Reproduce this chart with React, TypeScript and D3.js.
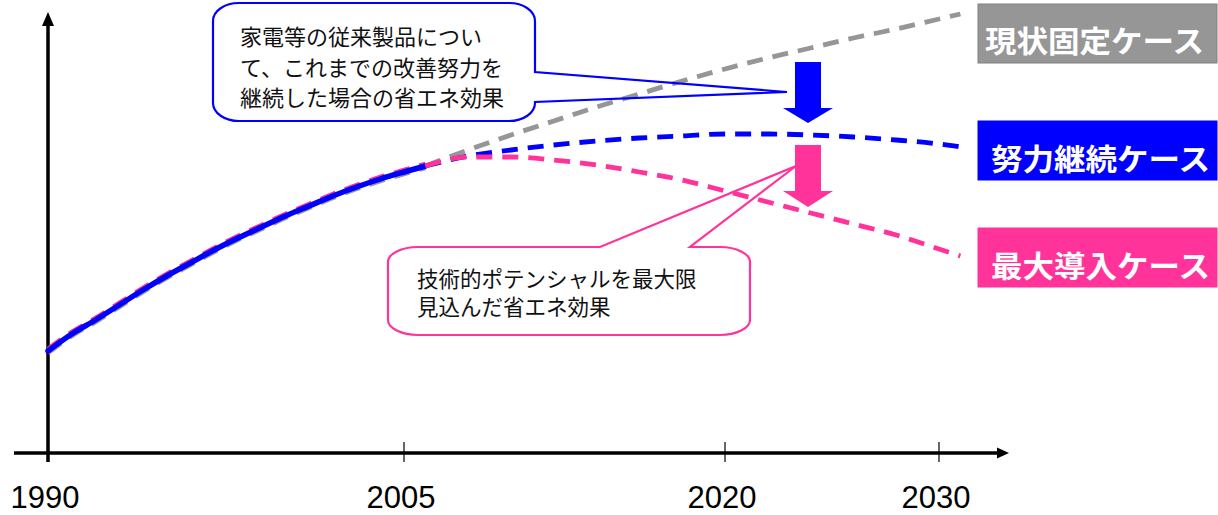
import React from "react";
import * as d3 from "d3";

// Historical trend (index units), 1990–2006
const actualYears = [1990, 1991, 1992, 1993, 1994, 1995, 1996, 1997, 1998, 1999, 2000, 2001, 2002, 2003, 2004, 2005, 2006];
const actualValues = [102, 119, 133, 148, 163, 177, 190, 203, 215, 226, 237, 247, 257, 266, 274, 281, 287];

// Scenario projections, 2006–2031
const projYears = [2006, 2008, 2010, 2012, 2014, 2016, 2018, 2020, 2022, 2024, 2026, 2028, 2030, 2031];
const frozenCase = [287, 303, 318, 332, 346, 359, 372, 384, 395, 405, 415, 424, 434, 439];
const effortCase = [287, 297, 303, 308, 312, 315, 317, 319, 319, 318, 316, 313, 309, 306];
const maxCase = [287, 296, 296, 293, 288, 281, 273, 262, 251, 240, 229, 218, 204, 197];

// Axis ticks
const tickYears = [1990, 2005, 2020, 2030];
const tickLabels = ["1990", "2005", "2020", "2030"];

// Scenario labels
const caseNames = ["現状固定ケース", "努力継続ケース", "最大導入ケース"];
const caseColors = ["#969696", "#0000FF", "#FF3399"];

// Callout texts
const effortNote = ["家電等の従来製品につい", "て、これまでの改善努力を", "継続した場合の省エネ効果"];
const maxNote = ["技術的ポテンシャルを最大限", "見込んだ省エネ効果"];

const W = 1218;
const H = 515;
const JP = "'Noto Sans CJK JP', 'Noto Sans', sans-serif";
const NUM = "'Liberation Sans', Arial, sans-serif";

const x = d3.scaleLinear().domain([1990, 2005, 2030]).range([48, 404, 939]);
const y = d3.scaleLinear().domain([0, 440]).range([453, 13]);

type Pt = [number, number];
const zip = (xs: number[], ys: number[]): Pt[] => xs.map((v, i) => [v, ys[i]]);

const line = d3
  .line<Pt>()
  .x((d) => x(d[0]))
  .y((d) => y(d[1]))
  .curve(d3.curveMonotoneX);

// Rounded box with a wedge pointer leaving its right side
function calloutRight(x0: number, y0: number, x1: number, y1: number, rx: number, ry: number, p1: number, p2: number, tip: Pt) {
  return [
    `M${x0 + rx},${y0}`,
    `H${x1 - rx}`,
    `A${rx},${ry} 0 0 1 ${x1},${y0 + ry}`,
    `V${p1}`,
    `L${tip[0]},${tip[1]}`,
    `L${x1},${p2}`,
    `V${y1 - ry}`,
    `A${rx},${ry} 0 0 1 ${x1 - rx},${y1}`,
    `H${x0 + rx}`,
    `A${rx},${ry} 0 0 1 ${x0},${y1 - ry}`,
    `V${y0 + ry}`,
    `A${rx},${ry} 0 0 1 ${x0 + rx},${y0}`,
    "Z",
  ].join(" ");
}

// Rounded box with a wedge pointer leaving its top side
function calloutTop(x0: number, y0: number, x1: number, y1: number, rx: number, ry: number, p1: number, p2: number, tip: Pt) {
  return [
    `M${x0 + rx},${y0}`,
    `H${p1}`,
    `L${tip[0]},${tip[1]}`,
    `L${p2},${y0}`,
    `H${x1 - rx}`,
    `A${rx},${ry} 0 0 1 ${x1},${y0 + ry}`,
    `V${y1 - ry}`,
    `A${rx},${ry} 0 0 1 ${x1 - rx},${y1}`,
    `H${x0 + rx}`,
    `A${rx},${ry} 0 0 1 ${x0},${y1 - ry}`,
    `V${y0 + ry}`,
    `A${rx},${ry} 0 0 1 ${x0 + rx},${y0}`,
    "Z",
  ].join(" ");
}

// Block arrow pointing down
function blockArrow(cx: number, top: number, shaftBottom: number, tipY: number, shaftHalf: number, headHalf: number) {
  return `M${cx - shaftHalf},${top} H${cx + shaftHalf} V${shaftBottom} H${cx + headHalf} L${cx},${tipY} L${cx - headHalf},${shaftBottom} H${cx - shaftHalf} Z`;
}

export default function App() {
  const actual = zip(actualYears, actualValues);
  const series = [frozenCase, effortCase, maxCase].map((v) => zip(projYears, v));
  const dash = "16 10";
  const axisY = y(0);
  const axisX = x(1990);

  const labelBoxes = [
    { top: 4, bottom: 63, textX: 985, base: 52 },
    { top: 121, bottom: 180, textX: 991, base: 170 },
    { top: 228, bottom: 287, textX: 991, base: 277 },
  ];

  return (
    <svg
      width={W}
      height={H}
      viewBox={`0 0 ${W} ${H}`}
      style={{ position: "fixed", left: 0, top: 0, background: "#fff" }}
    >
      <rect width={W} height={H} fill="#fff" />

      {/* axes */}
      <line x1={14} x2={1000} y1={axisY} y2={axisY} stroke="#000" strokeWidth={3.5} />
      <path d={`M1009,${axisY} L997,${axisY - 5.5} L997,${axisY + 5.5} Z`} fill="#000" />
      <line x1={axisX} x2={axisX} y1={462} y2={24} stroke="#000" strokeWidth={3.5} />
      <path d={`M${axisX},12 L${axisX - 6},26 L${axisX + 6},26 Z`} fill="#000" />
      {tickYears.map((t, i) => (
        <g key={t}>
          {i > 0 && <line x1={x(t)} x2={x(t)} y1={axisY - 11} y2={axisY + 9} stroke="#000" strokeWidth={1.2} />}
          <text x={x(t) - 3} y={508} textAnchor="middle" fontFamily={NUM} fontSize={31} fill="#000">
            {tickLabels[i]}
          </text>
        </g>
      ))}

      {/* historical segment: scenario dashes peeking out from under the solid line */}
      <path d={line(actual) || ""} fill="none" stroke={caseColors[0]} strokeWidth={4.5} strokeDasharray={dash} transform="translate(0,2)" />
      <path d={line(actual) || ""} fill="none" stroke={caseColors[2]} strokeWidth={4.5} strokeDasharray={dash} transform="translate(0,-2)" />
      <path d={line(actual) || ""} fill="none" stroke={caseColors[1]} strokeWidth={5.5} strokeLinecap="round" />

      {/* projections */}
      {series.map((s, i) => (
        <path key={i} d={line(s) || ""} fill="none" stroke={caseColors[i]} strokeWidth={4.8} strokeDasharray={dash} />
      ))}

      {/* scenario label boxes */}
      {caseNames.map((name, i) => (
        <g key={name}>
          <rect
            x={978}
            y={labelBoxes[i].top}
            width={239}
            height={labelBoxes[i].bottom - labelBoxes[i].top}
            fill={caseColors[i]}
            stroke={i === 0 ? "#808080" : caseColors[i]}
            strokeWidth={1}
          />
          <text
            x={labelBoxes[i].textX}
            y={labelBoxes[i].base}
            fontFamily={JP}
            fontWeight={700}
            fontSize={30}
            fill="#fff"
            textLength={219}
            lengthAdjust="spacingAndGlyphs"
          >
            {name}
          </text>
        </g>
      ))}

      {/* reduction arrows */}
      <path d={blockArrow(808, 62, 108, 123, 13, 25)} fill={caseColors[1]} />
      <path d={blockArrow(808, 145, 191, 207, 13, 25)} fill={caseColors[2]} />

      {/* callouts */}
      <path
        d={calloutRight(213, 3, 535, 121, 26, 18, 72, 102, [787, 92])}
        fill="none"
        stroke="#0000FF"
        strokeWidth={2.2}
      />
      {effortNote.map((t, i) => (
        <text key={t} x={240} y={45 + i * 30.5} fontFamily={JP} fontSize={22} fill="#111">
          {t}
        </text>
      ))}
      <path
        d={calloutTop(388, 247, 750, 335, 30, 15, 600, 690, [796, 166])}
        fill="none"
        stroke="#FF3399"
        strokeWidth={2.2}
      />
      {maxNote.map((t, i) => (
        <text key={t} x={417} y={287 + i * 28} fontFamily={JP} fontSize={21.5} fill="#111">
          {t}
        </text>
      ))}
    </svg>
  );
}
